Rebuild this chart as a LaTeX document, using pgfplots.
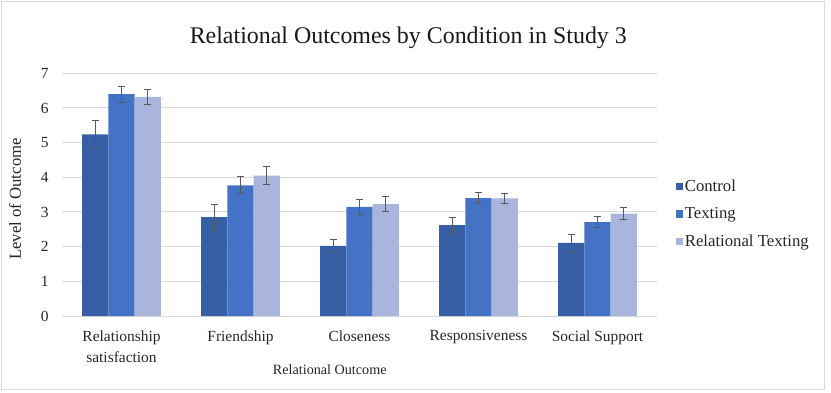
\documentclass[border=0pt]{standalone}
\usepackage{fontspec}
\setmainfont{Liberation Serif}
\usepackage{pgfplots}
\pgfplotsset{compat=1.18}

\definecolor{ctrl}{HTML}{375FA6}
\definecolor{txt}{HTML}{4472C4}
\definecolor{reltxt}{HTML}{A9B5DD}
\definecolor{gridgray}{HTML}{D9D9D9}
\definecolor{errgray}{HTML}{595959}

\begin{document}
\begin{tikzpicture}
\useasboundingbox (0bp,0bp) rectangle (831bp,393bp);
\draw[gridgray, line width=1bp] (1.5bp,3bp) rectangle (824bp,391.5bp);
\begin{axis}[
  at={(62bp,77bp)}, anchor=south west,
  scale only axis, width=595bp, height=242.7bp,
  xmin=-0.5, xmax=4.5, ymin=0, ymax=7,
  xtick={0,1,2,3,4},
  xticklabels={Relationship\\satisfaction, Friendship, Closeness, Responsiveness, Social Support},
  ytick={0,1,...,7},
  major tick length=0pt,
  axis x line*=bottom, axis y line*=left,
  x axis line style={draw=gridgray, line width=1bp, -},
  y axis line style={draw=none},
  ymajorgrids, grid style={gridgray, line width=1bp},
  /pgf/number format/assume math mode=true,
  tick label style={font=\fontsize{15.5}{21}\selectfont, text=black!85},
  xticklabel style={align=center, yshift=-11bp},
  yticklabel style={xshift=-10bp},
  title={Relational Outcomes by Condition in Study 3},
  title style={at={(axis description cs:0.582,1.122)}, anchor=center, font=\fontsize{24}{28}\selectfont, text=black!90},
  ylabel={Level of Outcome},
  ylabel style={at={(axis description cs:-0.079,0.482)}, anchor=center, font=\fontsize{16.8}{18}\selectfont, text=black!85},
  xlabel={Relational Outcome},
  xlabel style={at={(axis description cs:0.45,-0.222)}, anchor=center, font=\fontsize{14.2}{17}\selectfont, text=black!85},
  ybar=0pt, bar width=0.221,
  legend style={at={(axis description cs:1.031,0.42)}, anchor=west, draw=none, fill=none,
    font=\fontsize{16.8}{19}\selectfont, text=black!85, row sep=11bp, inner sep=0pt},
  legend cell align=left,
  legend image code/.code={\fill[#1] (0bp,-3.6bp) rectangle (7.2bp,3.6bp);},
  error bars/y dir=both, error bars/y explicit,
  error bars/error bar style={errgray, line width=1bp},
  error bars/error mark options={errgray, rotate=90, mark size=3.5bp, line width=1bp},
  clip=false,
]
% Control
\addplot[fill=ctrl, draw=none]
  coordinates {(0,5.24) +- (0,0.39) (1,2.85) +- (0,0.38) (2,2.02) +- (0,0.20) (3,2.62) +- (0,0.23) (4,2.11) +- (0,0.24)};
% Texting
\addplot[fill=txt, draw=none]
  coordinates {(0,6.40) +- (0,0.23) (1,3.77) +- (0,0.25) (2,3.15) +- (0,0.21) (3,3.40) +- (0,0.16) (4,2.71) +- (0,0.16)};
% Relational texting
\addplot[fill=reltxt, draw=none]
  coordinates {(0,6.32) +- (0,0.22) (1,4.05) +- (0,0.25) (2,3.23) +- (0,0.21) (3,3.39) +- (0,0.15) (4,2.95) +- (0,0.17)};
\legend{Control, Texting, Relational Texting}
\end{axis}
\end{tikzpicture}
\end{document}
